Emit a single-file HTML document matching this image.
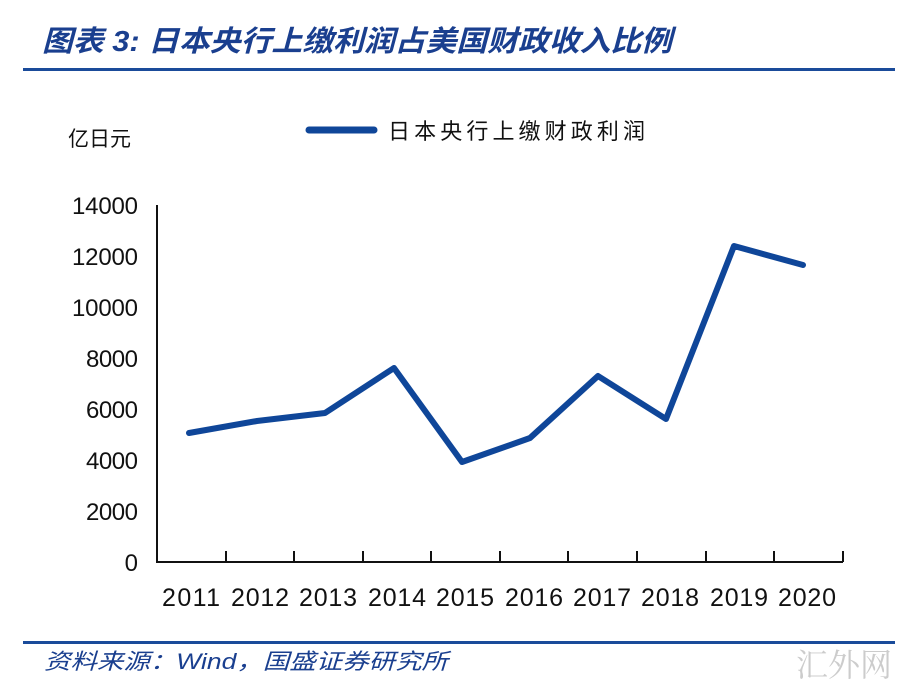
<!DOCTYPE html>
<html><head><meta charset="utf-8"><style>
body{margin:0;background:#fff;width:918px;height:688px;overflow:hidden;font-family:"Liberation Sans","Noto Sans CJK SC",sans-serif}
</style></head><body>
<svg width="918" height="688" viewBox="0 0 918 688" xmlns="http://www.w3.org/2000/svg">
<text x="42" y="51" font-size="29" font-style="italic" font-weight="bold" fill="#1a3f8f" textLength="630" lengthAdjust="spacingAndGlyphs" font-family="Liberation Sans,Noto Sans CJK SC,sans-serif">图表 3:  日本央行上缴利润占美国财政收入比例</text>
<rect x="23" y="68" width="872" height="3" fill="#1a4b9a"/>
<text x="68" y="146" font-size="21" fill="#111" font-family="Noto Sans CJK SC,sans-serif">亿日元</text>
<line x1="309" y1="130" x2="374" y2="130" stroke="#0f4699" stroke-width="7" stroke-linecap="round"/>
<text x="388" y="139" font-size="22" fill="#111" textLength="257" lengthAdjust="spacing" font-family="Noto Sans CJK SC,sans-serif">日本央行上缴财政利润</text>
<g font-size="24" fill="#111" text-anchor="end" font-family="Liberation Sans,sans-serif">
<text x="138" y="571" textLength="13">0</text><text x="138" y="520" textLength="52">2000</text><text x="138" y="469" textLength="52">4000</text><text x="138" y="418" textLength="52">6000</text><text x="138" y="367" textLength="52">8000</text><text x="138" y="316" textLength="66">10000</text><text x="138" y="265" textLength="66">12000</text><text x="138" y="214" textLength="66">14000</text>
</g>
<g stroke="#111" stroke-width="2" fill="none">
<line x1="157" y1="205" x2="157" y2="563"/>
<line x1="156" y1="562" x2="843" y2="562"/>
<path d="M226 562v-11M294 562v-11M363 562v-11M431 562v-11M500 562v-11M568 562v-11M637 562v-11M706 562v-11M774 562v-11M843 562v-11"/>
</g>
<g font-size="25" fill="#111" text-anchor="middle" font-family="Liberation Sans,sans-serif">
<text x="191" y="606" textLength="58">2011</text><text x="260" y="606" textLength="58">2012</text><text x="328" y="606" textLength="58">2013</text><text x="397" y="606" textLength="58">2014</text><text x="465" y="606" textLength="58">2015</text><text x="534" y="606" textLength="58">2016</text><text x="602" y="606" textLength="58">2017</text><text x="670" y="606" textLength="58">2018</text><text x="739" y="606" textLength="58">2019</text><text x="807" y="606" textLength="58">2020</text>
</g>
<polyline points="189,433 257,421 325,413 394,368 462,462 530,438 598,376 666,419 734,246 803,265" fill="none" stroke="#0f4699" stroke-width="6" stroke-linejoin="round" stroke-linecap="round"/>
<rect x="23" y="641" width="872" height="3" fill="#1a4b9a"/>
<text x="44" y="669" font-size="22" font-style="italic" fill="#1a3f8f" textLength="404" lengthAdjust="spacingAndGlyphs" font-family="Liberation Sans,Noto Sans CJK SC,sans-serif">资料来源：Wind，国盛证券研究所</text>
<text x="796" y="676" font-size="32" fill="#ccc" font-family="Noto Serif CJK SC,serif">汇外网</text>
</svg>
</body></html>
